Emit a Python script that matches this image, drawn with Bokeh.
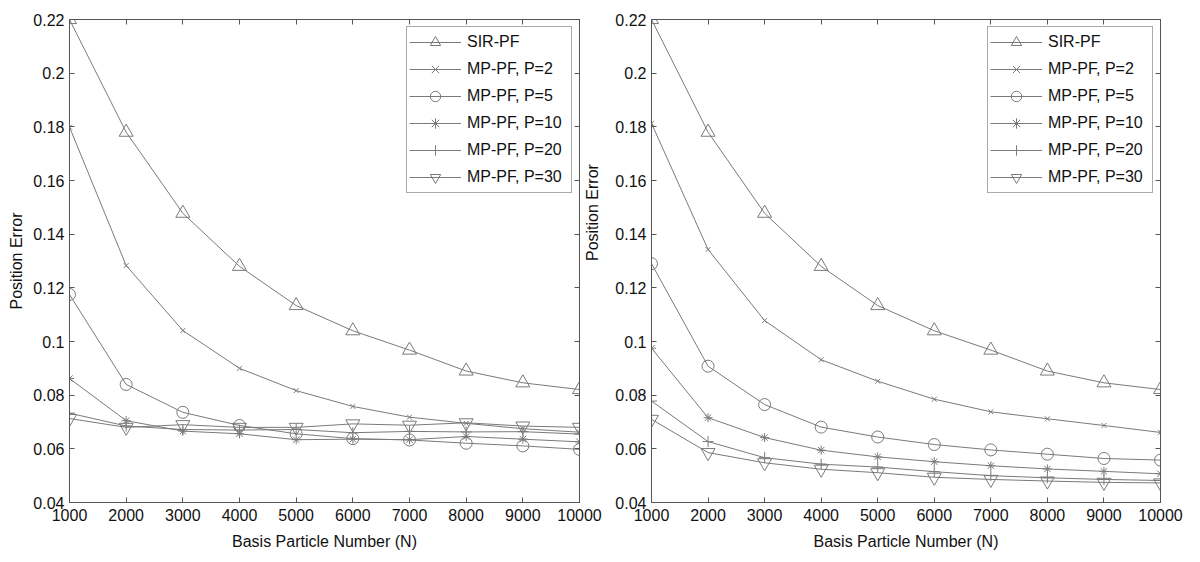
from bokeh.plotting import figure
from bokeh.layouts import row
from bokeh.models import FixedTicker, LinearAxis, Range1d, CustomJSTickFormatter
from bokeh.embed import file_html
from bokeh.resources import INLINE

# ---------------- data ----------------
particles = [1000, 2000, 3000, 4000, 5000, 6000, 7000, 8000, 9000, 10000]
x_tick_labels = ["1000", "2000", "3000", "4000", "5000", "6000", "7000", "8000", "9000", "10000"]
y_ticks = [0.04, 0.06, 0.08, 0.10, 0.12, 0.14, 0.16, 0.18, 0.20, 0.22]
y_tick_labels = ["0.04", "0.06", "0.08", "0.1", "0.12", "0.14", "0.16", "0.18", "0.2", "0.22"]

series_names = ["SIR-PF", "MP-PF, P=2", "MP-PF, P=5", "MP-PF, P=10", "MP-PF, P=20", "MP-PF, P=30"]
x_title = "Basis Particle Number (N)"
y_title = "Position Error"

# left panel
left_sir = [0.2200, 0.1780, 0.1478, 0.1280, 0.1134, 0.1040, 0.0968, 0.0890, 0.0846, 0.0821]
left_p2 = [0.1799, 0.1283, 0.1041, 0.0900, 0.0817, 0.0758, 0.0718, 0.0695, 0.0675, 0.0662]
left_p5 = [0.1175, 0.0840, 0.0736, 0.0687, 0.0656, 0.0638, 0.0633, 0.0621, 0.0611, 0.0598]
left_p10 = [0.0862, 0.0705, 0.0666, 0.0656, 0.0634, 0.0636, 0.0634, 0.0646, 0.0636, 0.0626]
left_p20 = [0.0733, 0.0685, 0.0672, 0.0670, 0.0672, 0.0660, 0.0665, 0.0663, 0.0664, 0.0655]
left_p30 = [0.0713, 0.0680, 0.0690, 0.0680, 0.0680, 0.0693, 0.0688, 0.0697, 0.0685, 0.0680]

# right panel
right_sir = [0.2200, 0.1780, 0.1478, 0.1280, 0.1134, 0.1040, 0.0968, 0.0890, 0.0846, 0.0821]
right_p2 = [0.1813, 0.1343, 0.1078, 0.0932, 0.0852, 0.0785, 0.0738, 0.0712, 0.0687, 0.0661]
right_p5 = [0.1290, 0.0908, 0.0765, 0.0681, 0.0644, 0.0616, 0.0596, 0.0580, 0.0564, 0.0558]
right_p10 = [0.0975, 0.0716, 0.0642, 0.0595, 0.0570, 0.0552, 0.0537, 0.0525, 0.0516, 0.0507]
right_p20 = [0.0778, 0.0627, 0.0567, 0.0543, 0.0532, 0.0515, 0.0500, 0.0492, 0.0486, 0.0482]
right_p30 = [0.0710, 0.0586, 0.0548, 0.0524, 0.0511, 0.0494, 0.0486, 0.0480, 0.0475, 0.0473]

# ---------------- styling ----------------
markers = ["triangle", "x", "circle", "asterisk", "cross", "inverted_triangle"]
marker_sizes = [14, 7, 12, 9, 11, 14]
LINE_COLOR = "#7a7a7a"
FRAME_COLOR = "#555555"
TEXT_COLOR = "#111111"
FONT = "Liberation Sans"
FS = "16px"


def blank_axis(ticks):
    return LinearAxis(
        ticker=FixedTicker(ticks=ticks),
        formatter=CustomJSTickFormatter(code="return ''"),
        major_tick_in=5, major_tick_out=0,
        minor_tick_line_color=None,
        major_tick_line_color=FRAME_COLOR,
        axis_line_color=FRAME_COLOR,
        major_label_text_font_size="1px",
        major_label_standoff=0,
    )


def make_panel(data, width, mb_left, mb_right, left_title, right_title):
    p = figure(width=width, height=554, output_backend="svg", toolbar_location=None,
               x_range=Range1d(1000, 10000), y_range=Range1d(0.04, 0.22),
               min_border_left=mb_left, min_border_right=mb_right,
               min_border_top=19, min_border_bottom=52)
    p.grid.visible = False
    p.outline_line_color = FRAME_COLOR
    p.background_fill_color = "white"
    p.border_fill_color = "white"

    xa = p.xaxis[0]
    xa.ticker = FixedTicker(ticks=particles)
    xa.major_label_overrides = {v: s for v, s in zip(particles, x_tick_labels)}
    xa.axis_label = x_title
    ya = p.yaxis[0]
    ya.ticker = FixedTicker(ticks=y_ticks)
    ya.major_label_overrides = {v: s for v, s in zip(y_ticks, y_tick_labels)}
    if left_title:
        ya.axis_label = y_title
    for ax in (xa, ya):
        ax.major_tick_in = 5
        ax.major_tick_out = 0
        ax.minor_tick_line_color = None
        ax.major_tick_line_color = FRAME_COLOR
        ax.axis_line_color = FRAME_COLOR
        ax.major_label_text_font = FONT
        ax.major_label_text_font_size = FS
        ax.major_label_text_color = TEXT_COLOR
        ax.axis_label_text_font = FONT
        ax.axis_label_text_font_size = FS
        ax.axis_label_text_font_style = "normal"
        ax.axis_label_text_color = TEXT_COLOR
    xa.major_label_standoff = 6
    xa.axis_label_standoff = 9
    ya.major_label_standoff = 5
    ya.axis_label_standoff = 5

    p.add_layout(blank_axis(particles), "above")
    p.add_layout(blank_axis(y_ticks), "right")
    if right_title:
        # y title of the neighbouring panel, placed in the gap between the two panels.
        # Rotated to read bottom-to-top; the label is anchored at its start at the
        # centre of the axis bounds, so the bounds are chosen to centre the text.
        la = LinearAxis(
            ticker=FixedTicker(ticks=[]),
            formatter=CustomJSTickFormatter(code="return ''"),
            major_tick_line_color=None, minor_tick_line_color=None,
            axis_line_color=None,
            major_label_text_font_size="1px", major_label_standoff=0,
            bounds=(0.0996, 0.1196),
            axis_label=y_title,
            axis_label_orientation=1.5707963267948966,
            axis_label_standoff=13,
            axis_label_text_font=FONT,
            axis_label_text_font_size=FS,
            axis_label_text_font_style="normal",
            axis_label_text_color=TEXT_COLOR,
        )
        p.add_layout(la, "right")

    for name, vals, mk, sz in zip(series_names, data, markers, marker_sizes):
        p.line(particles, vals, line_color=LINE_COLOR, line_width=1, legend_label=name)
        p.scatter(particles, vals, marker=mk, size=sz, fill_color=None,
                  line_color=LINE_COLOR, line_width=1, legend_label=name)

    lg = p.legend[0]
    lg.location = "top_right"
    lg.margin = 7
    lg.padding = 2
    lg.spacing = 1
    lg.glyph_width = 52
    lg.glyph_height = 26
    lg.label_height = 26
    lg.label_width = 102
    lg.label_standoff = 6
    lg.label_text_font = FONT
    lg.label_text_font_size = FS
    lg.label_text_color = TEXT_COLOR
    lg.border_line_color = FRAME_COLOR
    lg.border_line_width = 1
    lg.background_fill_color = "white"
    return p


p1 = make_panel([left_sir, left_p2, left_p5, left_p10, left_p20, left_p30], 612, 69, 30,
                left_title=True, right_title=True)
p2 = make_panel([right_sir, right_p2, right_p5, right_p10, right_p20, right_p30], 575, 39, 27,
                left_title=False, right_title=False)

layout = row(p1, p2)
open("out.html", "w").write(file_html(layout, INLINE))
